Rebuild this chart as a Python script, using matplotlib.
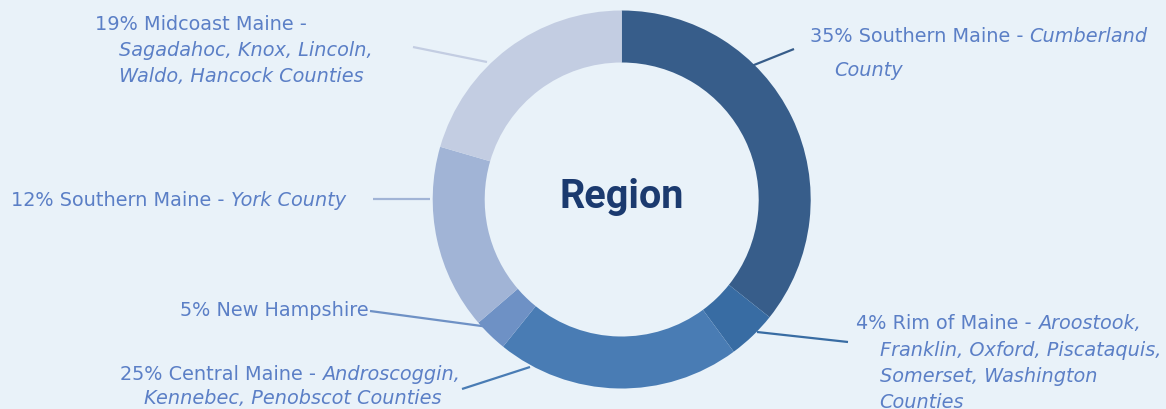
import matplotlib
matplotlib.use("Agg")
import matplotlib.pyplot as plt

# slice sizes as drawn (clockwise from 12 o'clock)
regions = ["Southern Maine - Cumberland", "Rim of Maine", "Central Maine",
           "New Hampshire", "Southern Maine - York", "Midcoast Maine"]
shares = [35.7, 4.2, 20.9, 2.9, 15.8, 20.5]
colors = ["#375d8a", "#386ca3", "#497cb4", "#6e91c5", "#a1b4d6", "#c3cde2"]

# label text: list of lines, each line a list of (text, italic) pieces
labels = [
    [[("35% Southern Maine - ", False), ("Cumberland", True)],
     [("County", True)]],
    [[("4% Rim of Maine - ", False), ("Aroostook,", True)],
     [("Franklin, Oxford, Piscataquis,", True)],
     [("Somerset, Washington", True)],
     [("Counties", True)]],
    [[("25% Central Maine - ", False), ("Androscoggin,", True)],
     [("Kennebec, Penobscot Counties", True)]],
    [[("5% New Hampshire", False)]],
    [[("12% Southern Maine - ", False), ("York County", True)]],
    [[("19% Midcoast Maine -", False)],
     [("Sagadahoc, Knox, Lincoln,", True)],
     [("Waldo, Hancock Counties", True)]],
]

W, H = 1166, 410
BG = "#e9f2f9"
TXT = "#5b7fc6"

fig = plt.figure(figsize=(W / 100, H / 100), dpi=100, facecolor=BG)
ax = fig.add_axes([0, 0, 1, 1])
ax.set_facecolor(BG)

def y(v):
    # picture rows -> data y
    return H - v

cx, cy = 621.7, y(200.5)
ax.pie(shares, colors=colors, startangle=90, counterclock=False,
       center=(cx, cy), radius=189,
       wedgeprops=dict(width=52, edgecolor="none", linewidth=0))
ax.set_xlim(0, W)
ax.set_ylim(0, H)
ax.set_aspect("equal")
ax.axis("off")

ax.text(cx, y(208), "Region", ha="center", va="baseline", fontsize=28.5,
        fontweight="bold", family="Roboto", color="#1b3a6f")

# leader lines (wedge end, label end)
leaders = [
    ((739, 72), (794, 50)),
    ((757, 333), (848, 343)),
    ((530, 368), (462, 390)),
    ((489, 328), (370, 312)),
    ((430, 200), (373, 200)),
    ((487, 63), (413, 48)),
]
for (p0, p1), c in zip(leaders, colors):
    ax.plot([p0[0], p1[0]], [y(p0[1]), y(p1[1])], color=c, lw=1.6,
            solid_capstyle="butt")

# label anchors: (x, baseline) per line
anchors = [
    [(810, 42.5), (834, 76)],
    [(856, 329), (879.5, 356), (879.5, 382), (879.5, 408)],
    [(120, 380.5), (143.5, 404)],
    [(368.5, 316)],
    [(11, 206)],
    [(95, 30), (118.5, 56), (118.5, 82)],
]
fs = 13.9
fam = "DejaVu Sans"
for i, (lab, anc) in enumerate(zip(labels, anchors)):
    for pieces, (lx, ly) in zip(lab, anc):
        ha = "right" if i == 3 else "left"
        prev = None
        for txt, it in pieces:
            style = "italic" if it else "normal"
            if prev is None:
                prev = ax.text(lx, y(ly), txt, ha=ha, va="baseline", fontsize=fs,
                               family=fam, style=style, color=TXT)
            else:
                prev = ax.annotate(txt, xy=(1, 0), xycoords=prev, va="bottom",
                                   ha="left", fontsize=fs, family=fam,
                                   style=style, color=TXT)

fig.savefig("out.png", dpi=100, facecolor=BG)
